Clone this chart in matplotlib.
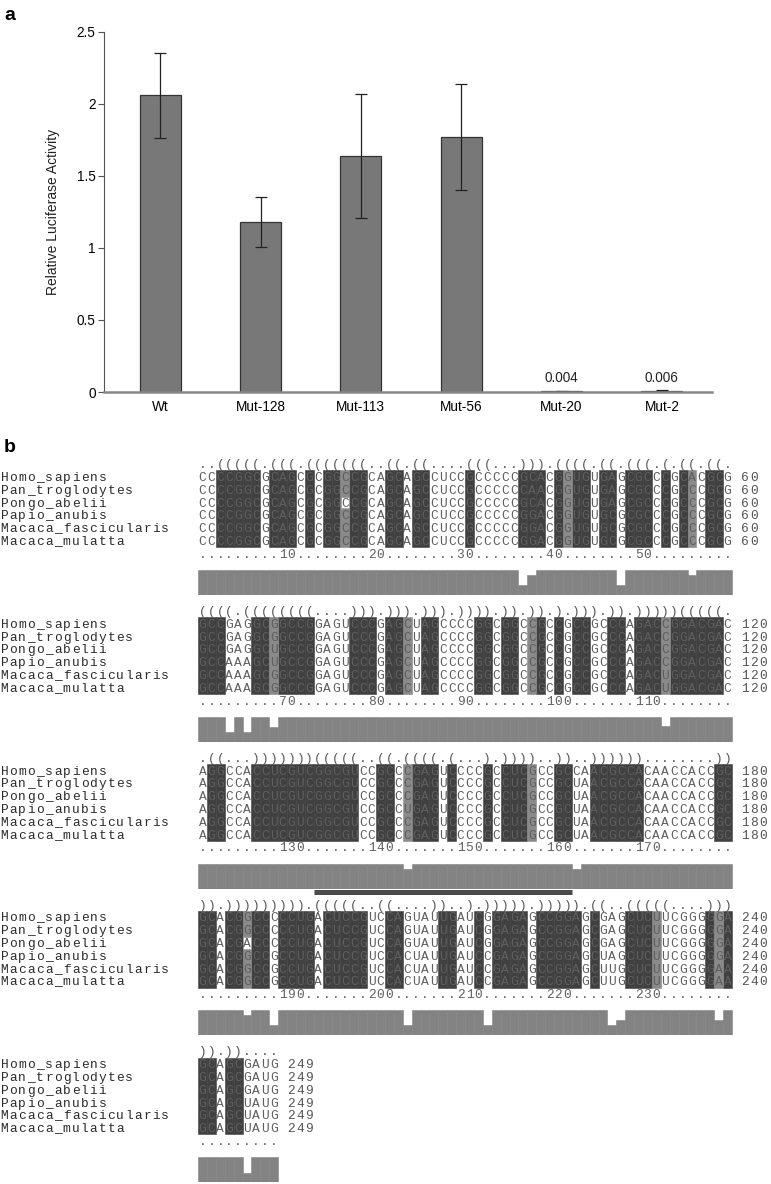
import numpy as np
import matplotlib
matplotlib.use("Agg")
import matplotlib.pyplot as plt

# ---------------- panel a data ----------------
samples = ["Wt", "Mut-128", "Mut-113", "Mut-56", "Mut-20", "Mut-2"]
activity = [2.06, 1.18, 1.635, 1.77, 0.004, 0.006]
activity_err = [0.295, 0.175, 0.43, 0.37, 0.003, 0.006]
value_labels = ["", "", "", "", "0.004", "0.006"]
yticks = [0, 0.5, 1, 1.5, 2, 2.5]
ytick_labels = ["0", "0.5", "1", "1.5", "2", "2.5"]

# ---------------- panel b data ----------------
species = ["Homo_sapiens", "Pan_troglodytes", "Pongo_abelii", "Papio_anubis",
           "Macaca_fascicularis", "Macaca_mulatta"]
block_start = [1, 61, 121, 181, 241]

structure = [
    "..(((((.(((.(((((((..((.((....(((...))).((((.((.(((.(.((.((.",
    "((((.((((((((....))).))).))).)))).)).)).).))).)).)))))(((((.",
    ".((...)))))))(((((..((.((((.(...).))))..))..))))))........))",
    ")).))))))))).(((((..((....))..).))))).))))).((..(((((....)))",
    ")).))....",
]

# one string per block, spaces only for readability
seq_homo = [
    "CCCCGGCGCA GCGCGGCCGC AGCAGCCUCC GCCCCCGCAC GGUGUGAGCG CCCGCACGCG",
    "GCCGAGGCGG CCGGAGUCCC GAGCUAGCCC CGGCGGCCGC CGCCGCCCAG ACCGGACGAC",
    "AGGCCACCUC GUCGGCGUCC GCCCGAGUCC CCGCCUCGCC GCCAACGCCA CAACCACCGC",
    "GCACGGCCCC CUGACUCCGU CCAGUAUUGA UCGGAGAGCC GGAGCGAGCU CUUCGGGGGA",
    "GCAGCGAUG",
]
seq_pan = [
    "CCCCGGCGCA GCGCGGCCGC AGCAGCCUCC GCCCCCCAAC GGUGUGAGCG CCCGCCCGCG",
    "GCCGAGGCGG CCGGAGUCCC GAGCUAGCCC CGGCGGCCGC CGCCGCCCAG ACCGGACGAC",
    "AGGCCACCUC GUCGGCGUCC GCCCGAGUCC CCGCCUCGCC GCUAACGCCA CAACCACCGC",
    "GCACGGCCCC CUGACUCCGU CCAGUAUUGA UCGGAGAGCC GGAGCGAGCU CUUCGGGGGA",
    "GCAGCGAUG",
]
seq_pongo = [
    "CCCCGGCGCA GCGCGGCCGC AGCAGCCUCC GCCCCCGCAC GGUGUGAGCG CCCGCCCGCG",
    "GCCGAGGCUG CCGGAGUCCC GAGCUAGCCC CGGCGGCCGC CGCCGCCCAG ACCGGACGAC",
    "AGGCCACCUC GUCGGCGUCC GCCCGAGUCC CCGCCUCGCC GCUAACGCCA CAACCACCGC",
    "GCACGACCCC CUGACUCCGU CCAGUAUUGA UCGGAGAGCC GGAGCGAGCU CUUCGGGGGA",
    "GCAGCGAUG",
]
seq_papio = [
    "CCCCGGCGCA GCGCGGCCGC AGCAGCCUCC GCCCCCGGAC GGUGUGCGCG CCCGCCCGCG",
    "GCCAAAGCUG CCGGAGUCCC GAGCUAGCCC CGGCGGCCGC CGCCGCCCAG ACCGGACGAC",
    "AGGCCACCUC GUCGGCGUCC GCCUGAGUCC CCGCCUCGCC GCUAACGCCA CAACCACCGC",
    "GCACGGCCGC CUGACUCCGU CCACUAUUGA UCCGAGAGCC GGAGCUAGCU CUUCGGGGGA",
    "GCAGCUAUG",
]
seq_mfas = [
    "CCCCGGCGCA GCGCGGCCGC AGCAGCCUCC GCCCCCGGAC GGUGUGCGCG CCCGCCCGCG",
    "GCCAAAGCGG CCGGAGUCCC GAGCUAGCCC CGGCGGCCGC CGCCGCCCAG ACUGGACGAC",
    "AGGCCACCUC GUCGGCGUCC GCCCGAGUCC CCGCCUCGCC GCUAACGCCA CAACCACCGC",
    "GCACGGCCGC CUGACUCCGU CCACUAUUGA UCCGAGAGCC GGAGCUUGCU CUUCGGGGAA",
    "GCAGCUAUG",
]
seq_mmul = [
    "CCCCGGCGCA GCGCGGCCGC AGCAGCCUCC GCCCCCGGAC GGUGUGCGCG CCCGCCCGCG",
    "GCCAAAGCGG CCGGAGUCCC GAGCUAGCCC CGGCGGCCGC CGCCGCCCAG ACUGGACGAC",
    "AGGCCACCUC GUCGGCGUCC GCCCGAGUCC CCGCCUCGCC GCUAACGCCA CAACCACCGC",
    "GCACGGCCGC CUGACUCCGU CCACUAUUGA UCCGAGAGCC GGAGCUUGCU CUUCGGGGAA",
    "GCAGCUAUG",
]

# column shading: '#' dark, '+' grey, '.' none
shading = [
    "..#####.###.#.##+##..##.##....#.....###.#+##.##.###.#.#+.##.",
    "###...##+####....###.##+.##....##.##.+#.#.##..##.###+######.",
    ".##...############..##.+###.#...#.###+..##..######........##",
    "##.##+##.####.#####..##....##..#.####.#####.#...###+.....#+#",
    "##.##....",
]
# single unshaded cells inside a shaded column: (block, species index, column)
open_cells = [(0, 2, 17), (3, 2, 6)]

# conservation track, 1.0 everywhere except these alignment positions
conservation_dips = {37: 0.4, 38: 0.8, 48: 0.4, 56: 0.8,
                     64: 0.4, 66: 0.4, 69: 0.6, 113: 0.65,
                     144: 0.8, 163: 0.8,
                     186: 0.8, 189: 0.4, 204: 0.4, 213: 0.4, 227: 0.4, 228: 0.6, 239: 0.6,
                     246: 0.36}
mature_span = (194, 222)

# ---------------- layout ----------------
W, H = 771, 1184
fig = plt.figure(figsize=(W / 100, H / 100), dpi=100)
fig.patch.set_facecolor("white")


def px_axes(left, top, right, bottom):
    return fig.add_axes([left / W, 1 - bottom / H, (right - left) / W, (bottom - top) / H])


SANS = ["Liberation Sans", "DejaVu Sans"]

# ---------------- panel a ----------------
ax = px_axes(104, 31.7, 712, 392)
x = np.arange(len(samples))
ax.bar(x, activity, width=0.41, color="#787878", edgecolor="#333333", linewidth=0.9,
       yerr=activity_err, capsize=4.5,
       error_kw=dict(ecolor="#222222", elinewidth=0.9, capthick=0.9))
for i, lab in enumerate(value_labels):
    if lab:
        ax.text(i, activity[i] + activity_err[i] + 0.04, lab, ha="center", va="bottom",
                fontsize=9.8, family=SANS, color="#222222")
ax.set_xlim(-0.56, 5.5)
ax.set_ylim(0, 2.5)
ax.set_yticks(yticks)
ax.set_yticklabels(ytick_labels, family=SANS, fontsize=9.8)
ax.set_xticks(x)
ax.set_xticklabels(samples, family=SANS, fontsize=9.8)
ax.tick_params(axis="y", direction="out", length=4, width=0.8, color="#555555", pad=2)
ax.tick_params(axis="x", length=0, pad=6)
for s in ["top", "right"]:
    ax.spines[s].set_visible(False)
ax.spines["left"].set_color("#555555")
ax.spines["left"].set_linewidth(0.8)
ax.spines["bottom"].set_color("#888888")
ax.spines["bottom"].set_linewidth(1.8)
ax.set_ylabel("Relative Luciferase Activity", family=SANS, fontsize=10, color="#222222")
ax.yaxis.set_label_coords(-0.072, 0.5)
fig.text(4 / W, 1 - 15 / H, "a", fontsize=14, fontweight="bold", family=SANS, va="center")

# ---------------- panel b ----------------
fig.text(4 / W, 1 - 448 / H, "b", fontsize=14, fontweight="bold", family=SANS, va="center")

CHAR = 8.9      # px per alignment column
SEQ_X0 = 198    # px where column 1 starts
ROW = 12.8      # px per text row
Y0 = 464        # px of the first structure line
STEP = 146.8    # px between blocks
MONO = "Liberation Mono"
FS = 9.3
DARK, MID, BAR = "#404040", "#8a8a8a", "#838383"
xlim = (-SEQ_X0 / CHAR, (W - SEQ_X0) / CHAR)

seqs = [seq_homo, seq_pan, seq_pongo, seq_papio, seq_mfas, seq_mmul]


def put(a, x0, y, s, color="#5f5f5f"):
    for i, ch in enumerate(s):
        if ch != " ":
            a.text(x0 + i + 0.5, y + 0.33, ch, ha="center", va="baseline",
                   fontsize=FS, family=MONO, color=color)


def ruler(start, n):
    out, i = "", 0
    while i < n:
        g = start + i
        if g % 10 == 0 and i + len(str(g)) <= n:
            out += str(g)
            i += len(str(g))
        else:
            out += "."
            i += 1
    return out


for b in range(len(block_start)):
    n = len(structure[b])
    assert len(shading[b]) == n, (b, len(shading[b]))
    y0 = Y0 + b * STEP
    a = px_axes(0, y0 - 0.5 * ROW, W, y0 + 7.5 * ROW)
    a.set_xlim(*xlim)
    a.set_ylim(7.5, -0.5)
    a.axis("off")

    cols = np.arange(n)
    mask = np.array(list(shading[b]))
    a.bar(cols[mask == "#"] + 0.5, 6, bottom=0.5, width=1, color=DARK, edgecolor=DARK, linewidth=0.4)
    a.bar(cols[mask == "+"] + 0.5, 6, bottom=0.5, width=1, color=MID, edgecolor=MID, linewidth=0.4)
    for bb, r, c in open_cells:
        if bb == b:
            a.bar(c - 0.5, 0.92, bottom=r + 0.54, width=0.9, color="white",
                  edgecolor="#9a9a9a", linewidth=0.6)

    put(a, 0, 0, structure[b], color="#555555")
    for r, name in enumerate(species):
        put(a, xlim[0], r + 1, name, color="#2b2b2b")
        s = seqs[r][b].replace(" ", "")
        assert len(s) == n, (name, b, len(s))
        put(a, 0, r + 1, s)
        put(a, n + 1, r + 1, str(block_start[b] + n - 1), color="#555555")
    put(a, 0, 7, ruler(block_start[b], n), color="#606060")

    if block_start[b] <= mature_span[0] < block_start[b] + n:
        a.plot([mature_span[0] - block_start[b], mature_span[1] - block_start[b] + 1],
               [-0.93, -0.93], color="#4a4a4a", lw=3.6, solid_capstyle="butt", clip_on=False)

    c = px_axes(0, y0 + 106, W, y0 + 131)
    c.set_xlim(*xlim)
    c.set_ylim(0, 1)
    c.axis("off")
    heights = [conservation_dips.get(block_start[b] + i, 1.0) for i in range(n)]
    c.bar(cols + 0.5, heights, width=1, color=BAR, edgecolor=BAR, linewidth=0.4)

fig.savefig("out.png", dpi=100, facecolor="white")
